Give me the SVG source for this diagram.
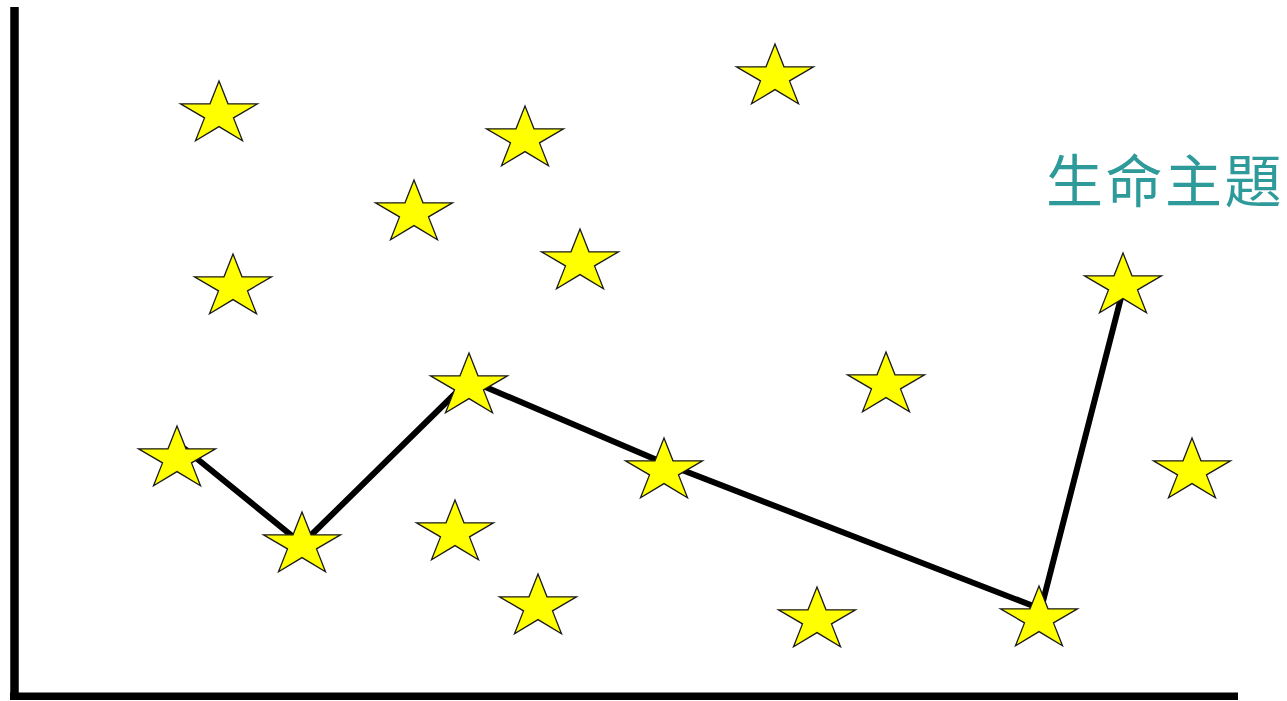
<svg xmlns="http://www.w3.org/2000/svg" xmlns:xlink="http://www.w3.org/1999/xlink" width="1287" height="701" viewBox="0 0 1287 701">
<style>
.axis{stroke:#000;fill:none;stroke-linecap:butt}
.conn{stroke:#000;stroke-width:6;fill:none;stroke-linejoin:round;stroke-linecap:round}
.star{fill:#ffff00;stroke:#1a1a1a;stroke-width:1.3;stroke-linejoin:miter}
.label{font-family:"Noto Sans CJK TC","Noto Sans CJK SC",sans-serif;font-size:57px;letter-spacing:2.5px;fill:#2f9a9a}
</style>
<defs>
<path id="star" d="M0,-33 L9,-10.2 L38.5,-10.2 L14.5,3.9 L23.5,26.7 L0,12.6 L-23.5,26.7 L-14.5,3.9 L-38.5,-10.2 L-9,-10.2 Z"/>
</defs>
<rect width="1287" height="701" fill="#fff"/>
<g id="axes">
<line class="axis" x1="14.5" y1="7" x2="14.5" y2="700" stroke-width="8.5"/>
<line class="axis" x1="10" y1="696.3" x2="1238" y2="696.3" stroke-width="7.5"/>
</g>
<g id="connectors">
<polyline class="conn" points="185,449 302,544 469,380 664,463 1041,609 1124,286"/>
</g>
<g id="star1"><use xlink:href="#star" class="star" x="219" y="114"/></g>
<g id="star2"><use xlink:href="#star" class="star" x="525" y="139"/></g>
<g id="star3"><use xlink:href="#star" class="star" x="775" y="77"/></g>
<g id="star4"><use xlink:href="#star" class="star" x="414" y="213"/></g>
<g id="star5"><use xlink:href="#star" class="star" x="580" y="262"/></g>
<g id="star6"><use xlink:href="#star" class="star" x="233" y="287"/></g>
<g id="star7"><use xlink:href="#star" class="star" x="1123" y="286"/></g>
<g id="star8"><use xlink:href="#star" class="star" x="469" y="386"/></g>
<g id="star9"><use xlink:href="#star" class="star" x="886" y="385"/></g>
<g id="star10"><use xlink:href="#star" class="star" x="177" y="459"/></g>
<g id="star11"><use xlink:href="#star" class="star" x="664" y="471"/></g>
<g id="star12"><use xlink:href="#star" class="star" x="1192" y="471"/></g>
<g id="star13"><use xlink:href="#star" class="star" x="302" y="545"/></g>
<g id="star14"><use xlink:href="#star" class="star" x="455" y="533"/></g>
<g id="star15"><use xlink:href="#star" class="star" x="538" y="607"/></g>
<g id="star16"><use xlink:href="#star" class="star" x="817" y="620"/></g>
<g id="star17"><use xlink:href="#star" class="star" x="1039" y="619"/></g>
<g id="title"><text class="label" x="1046" y="202">生命主題</text></g>
</svg>
